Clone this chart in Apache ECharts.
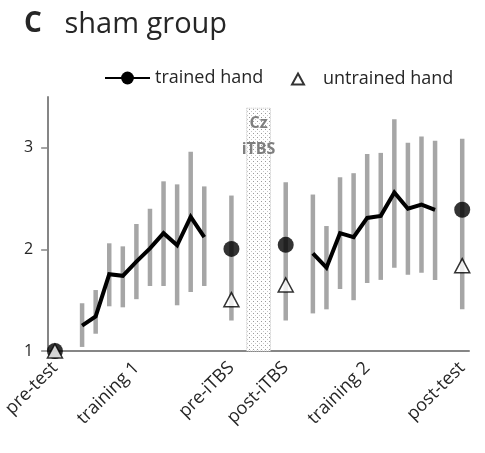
<!DOCTYPE html>
<html><head><meta charset="utf-8">
<script src="https://cdn.jsdelivr.net/npm/echarts@6/dist/echarts.min.js"></script>
<style>html,body{margin:0;padding:0;background:#fff}#c{width:485px;height:453px}</style>
</head><body><div id="c"></div>
<script>
// ---- data ----
const sessions = ['pre-test','gap1',
  'T1-1','T1-2','T1-3','T1-4','T1-5','T1-6','T1-7','T1-8','T1-9','T1-10',
  'gap2','pre-iTBS','iTBS-1','iTBS-2','iTBS-3','post-iTBS','gap3',
  'T2-1','T2-2','T2-3','T2-4','T2-5','T2-6','T2-7','T2-8','T2-9','T2-10',
  'gap4','post-test'];
const tickLabels = {'pre-test':'pre-test','T1-5':'training 1','pre-iTBS':'pre-iTBS',
  'post-iTBS':'post-iTBS','T2-5':'training 2','post-test':'post-test'};
const training1 = ['T1-1','T1-2','T1-3','T1-4','T1-5','T1-6','T1-7','T1-8','T1-9','T1-10'];
const training1Mean  = [1.25,1.34,1.755,1.74,1.88,2.01,2.16,2.04,2.32,2.12];
const training1Upper = [1.47,1.60,2.06,2.03,2.25,2.40,2.67,2.64,2.96,2.62];
const training1Lower = [1.04,1.17,1.44,1.43,1.51,1.64,1.64,1.45,1.58,1.64];
const training2 = ['T2-1','T2-2','T2-3','T2-4','T2-5','T2-6','T2-7','T2-8','T2-9','T2-10'];
const training2Mean  = [1.96,1.82,2.16,2.12,2.31,2.33,2.56,2.40,2.44,2.39];
const training2Upper = [2.54,2.23,2.71,2.75,2.94,2.95,3.28,3.05,3.11,3.07];
const training2Lower = [1.37,1.41,1.61,1.50,1.67,1.70,1.82,1.75,1.77,1.70];
const testSessions  = ['pre-test','pre-iTBS','post-iTBS','post-test'];
const testTrained   = [1.0, 2.005, 2.045, 2.39];
const testUntrained = [1.0, 1.505, 1.65, 1.84];
const testUpper     = [null, 2.53, 2.66, 3.09];
const testLower     = [null, 1.30, 1.30, 1.41];
const yTicks = [1, 2, 3];
const stimSession = 'iTBS-2';
const stimTop = 3.39;
const stimLabel = 'Cz\niTBS';

// ---- build ----
const FONT = 'Open Sans';
const lineData = sessions.map(() => null);
training1.forEach((s,i)=>{ lineData[sessions.indexOf(s)] = training1Mean[i]; });
training2.forEach((s,i)=>{ lineData[sessions.indexOf(s)] = training2Mean[i]; });
const errData = [];
training1.forEach((s,i)=>errData.push([s, training1Lower[i], training1Upper[i]]));
training2.forEach((s,i)=>errData.push([s, training2Lower[i], training2Upper[i]]));
testSessions.forEach((s,i)=>{ if (testUpper[i]!=null) errData.push([s, testLower[i], testUpper[i]]); });

const pat = document.createElement('canvas');
pat.width = 4; pat.height = 4;
const pc = pat.getContext('2d');
pc.fillStyle = '#ffffff'; pc.fillRect(0,0,4,4);
pc.fillStyle = '#9a9a9a'; pc.fillRect(1,1,1,1);
pc.fillStyle = '#c8c8c8'; pc.fillRect(3,3,1,1);

const chart = echarts.init(document.getElementById('c'), null, {renderer:'canvas'});
chart.setOption({
  animation: false,
  backgroundColor: '#fff',
  title: {
    left: 19, top: 5,
    text: '{b|C}   sham group',
    textStyle: { fontFamily: FONT, fontSize: 29, color: '#262626', fontWeight: 'normal',
      rich: { b: { fontFamily: FONT, fontSize: 28, fontWeight: 'bold', color: '#262626' } } }
  },
  legend: [
    { data: ['trained hand'], left: 104, top: 69, padding: 0, itemWidth: 45, itemHeight: 16, itemGap: 0,
      textStyle: { fontFamily: FONT, fontSize: 18, color: '#262626' } },
    { data: ['untrained hand'], left: 291, top: 70, padding: 0, itemWidth: 12, itemHeight: 11,
      textStyle: { fontFamily: FONT, fontSize: 18, color: '#262626', padding: [0,0,0,14] } }
  ],
  grid: { left: 44, right: 16, top: 97, bottom: 102, containLabel: false },
  xAxis: {
    type: 'category', data: sessions, boundaryGap: true,
    axisLine: { lineStyle: { color: '#868686', width: 2 } },
    axisTick: { show: false },
    splitLine: { show: false },
    axisLabel: { interval: 0, rotate: 45, margin: 14, fontFamily: FONT, fontSize: 18, color: '#262626',
      formatter: v => tickLabels[v] || '' }
  },
  yAxis: {
    type: 'value', min: 1, max: 3.5, interval: 1,
    axisLine: { show: true, lineStyle: { color: '#868686', width: 2 } },
    axisTick: { show: true, inside: false, length: 7, customValues: yTicks, lineStyle: { color: '#868686', width: 1.5 } },
    axisLabel: { customValues: yTicks, margin: 15, fontFamily: FONT, fontSize: 16, color: '#262626' },
    splitLine: { show: false }
  },
  series: [
    {
      name: 'stim', type: 'custom', silent: true, z: 1,
      data: [[stimSession, stimTop]],
      encode: { x: 0, y: 1 },
      renderItem: (params, api) => {
        const top = api.coord([api.value(0), api.value(1)]);
        const bot = api.coord([api.value(0), 1]);
        const w = api.size([1, 0])[0] * 1.75;
        return { type: 'group', children: [
          { type: 'rect', shape: { x: top[0]-w/2, y: top[1], width: w, height: bot[1]-top[1] },
            style: { fill: { image: pat, repeat: 'repeat' }, stroke: '#c0c0c0', lineWidth: 1, lineDash: [1,1] } },
          { type: 'text', x: top[0], y: top[1] + 2,
            style: { text: stimLabel, fontFamily: FONT, fontSize: 16, fontWeight: 'bold', fill: '#7f7f7f',
              align: 'center', verticalAlign: 'top', lineHeight: 26 } }
        ]};
      }
    },
    {
      name: 'error', type: 'custom', z: 2, silent: true,
      data: errData,
      encode: { x: 0, y: [1, 2] },
      renderItem: (params, api) => {
        const lo = api.coord([api.value(0), api.value(1)]);
        const hi = api.coord([api.value(0), api.value(2)]);
        const w = 4.5;
        return { type: 'rect', shape: { x: lo[0]-w/2, y: hi[1], width: w, height: lo[1]-hi[1] },
          style: { fill: '#a6a6a6' } };
      }
    },
    {
      name: 'trained hand', type: 'line', z: 3, data: lineData, connectNulls: false,
      symbol: 'circle', showSymbol: false, symbolSize: 16,
      lineStyle: { color: '#000', width: 4, join: 'miter' },
      itemStyle: { color: '#000' }
    },
    {
      name: 'trained tests', type: 'scatter', z: 4, clip: false,
      data: testSessions.map((s,i)=>[s, testTrained[i]]),
      symbol: 'circle', symbolSize: 16, itemStyle: { color: '#000' }
    },
    {
      name: 'untrained hand', type: 'scatter', z: 5, clip: false,
      data: testSessions.map((s,i)=>[s, testUntrained[i]]),
      symbol: 'triangle', symbolSize: [15, 14],
      itemStyle: { color: '#fff', borderColor: '#000', borderWidth: 1.5 }
    }
  ]
});
</script></body></html>
